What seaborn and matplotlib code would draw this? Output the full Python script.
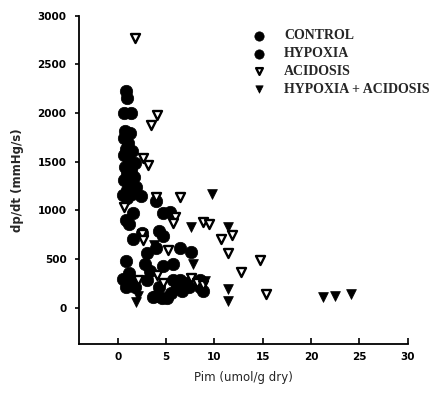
import matplotlib
matplotlib.use("Agg")
import matplotlib.pyplot as plt
import seaborn as sns
import pandas as pd

# ---- data ----
control_x = [0.9, 1.0, 0.6, 1.4, 0.8, 1.3, 0.7, 1.1, 0.9, 1.5, 0.6, 1.2, 1.8, 0.8, 1.4, 1.0, 1.7,
             0.7, 1.2, 1.9, 1.0, 0.5, 1.5, 2.4, 1.0, 1.6, 0.9, 1.2, 0.9, 0.5, 1.2, 1.6, 0.9, 1.8]
control_y = [2230, 2150, 2000, 2000, 1820, 1800, 1740, 1690, 1630, 1610, 1570, 1530, 1490, 1450, 1410,
             1370, 1340, 1310, 1270, 1240, 1210, 1160, 1170, 1150, 1130, 970, 900, 860, 480, 290, 360,
             250, 210, 210]
hypoxia_x = [4.0, 4.7, 5.4, 2.5, 1.6, 4.3, 4.7, 4.0, 3.0, 2.8, 3.3, 6.4, 7.6, 4.7, 5.7, 3.0, 4.0,
             5.1, 4.6, 5.7, 6.1, 6.7, 7.1, 8.5, 8.8, 8.5, 4.3, 6.4, 7.4, 3.6, 5.5]
hypoxia_y = [1100, 970, 980, 770, 700, 790, 740, 610, 560, 450, 380, 610, 570, 430, 450, 280, 120,
             100, 100, 280, 210, 170, 250, 210, 170, 280, 210, 280, 210, 110, 150]
acid_x = [1.8, 4.1, 3.4, 2.6, 3.1, 4.0, 6.4, 0.7, 5.9, 5.7, 2.5, 2.6, 5.2, 4.1, 2.1, 4.7, 7.6,
          8.2, 8.8, 8.8, 9.4, 10.7, 11.8, 11.4, 12.7, 14.7, 15.3]
acid_y = [2770, 1980, 1875, 1535, 1465, 1135, 1135, 1030, 930, 865, 760, 690, 590, 330, 280, 250,
          300, 250, 230, 875, 860, 710, 750, 560, 370, 490, 135]
hypac_x = [2.1, 1.9, 3.8, 7.6, 7.8, 9.8, 11.4, 11.4, 11.4, 21.2, 22.5, 24.1, 9.0]
hypac_y = [120, 55, 640, 830, 450, 1170, 825, 195, 70, 105, 115, 140, 270]

series_names = ["CONTROL", "HYPOXIA", "ACIDOSIS", "HYPOXIA + ACIDOSIS"]
x_ticks = [0, 5, 10, 15, 20, 25, 30]
y_ticks = [0, 500, 1000, 1500, 2000, 2500, 3000]

sns.set_theme(style="ticks")

fig = plt.figure(figsize=(4.39, 3.95), dpi=100)
ax = fig.add_axes([0.18, 0.129, 0.749, 0.831])

sns.scatterplot(x=control_x, y=control_y, ax=ax, marker="o", s=80, color="black",
                edgecolor="black", linewidth=0.5, label=series_names[0])
sns.scatterplot(x=hypoxia_x, y=hypoxia_y, ax=ax, marker="o", s=80, color="black",
                edgecolor="black", linewidth=0.5, label=series_names[1])
sns.scatterplot(x=acid_x, y=acid_y, ax=ax, marker="v", s=42, color="white",
                edgecolor="black", linewidth=1.7, label=series_names[2])
sns.scatterplot(x=hypac_x, y=hypac_y, ax=ax, marker="v", s=50, color="black",
                edgecolor="black", linewidth=0.5, label=series_names[3])

ax.set_xlim(-4, 30)
ax.set_ylim(-375, 3000)
ax.set_xticks(x_ticks)
ax.set_yticks(y_ticks)
ax.set_xticklabels([str(t) for t in x_ticks], fontsize=7.5, fontweight="bold", family="DejaVu Sans")
ax.set_yticklabels([str(t) for t in y_ticks], fontsize=7.5, fontweight="bold", family="DejaVu Sans")
ax.tick_params(axis="x", direction="in", length=4, width=1.2, pad=6, colors="black")
ax.tick_params(axis="y", direction="out", length=3, width=1.2, pad=6, colors="black")
for side in ["top", "right"]:
    ax.spines[side].set_visible(False)
for side in ["left", "bottom"]:
    ax.spines[side].set_linewidth(1.3)
    ax.spines[side].set_color("black")

ax.set_xlabel("Pim (umol/g dry)", fontsize=8.5, family="DejaVu Sans", labelpad=6)
ax.set_ylabel("dp/dt (mmHg/s)", fontsize=8.5, fontweight="bold", family="DejaVu Sans", labelpad=10)

leg = ax.legend(loc="upper left", bbox_to_anchor=(0.505, 0.98), frameon=False,
                prop={"family": "Liberation Serif", "weight": "bold", "size": 10},
                handletextpad=1.3, labelspacing=0.35, borderpad=0, handlelength=1.0,
                markerscale=0.75)

fig.savefig("out.png", dpi=100)
